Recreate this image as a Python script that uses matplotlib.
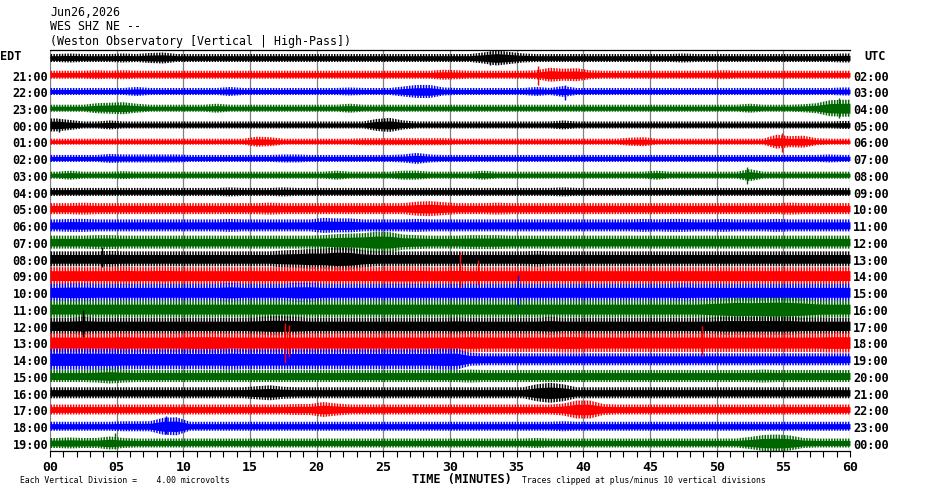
import matplotlib
matplotlib.use("Agg")
import matplotlib.pyplot as plt
from matplotlib.ticker import MultipleLocator, FixedLocator
import numpy as np

# ---------------- data ----------------
title_lines = ["Jun26,2026", "WES SHZ NE --",
               "(Weston Observatory [Vertical | High-Pass])"]
edt_labels = ["EDT", "21:00", "22:00", "23:00", "00:00", "01:00", "02:00", "03:00",
              "04:00", "05:00", "06:00", "07:00", "08:00", "09:00", "10:00", "11:00",
              "12:00", "13:00", "14:00", "15:00", "16:00", "17:00", "18:00", "19:00"]
utc_labels = ["UTC", "02:00", "03:00", "04:00", "05:00", "06:00", "07:00", "08:00",
              "09:00", "10:00", "11:00", "12:00", "13:00", "14:00", "15:00", "16:00",
              "17:00", "18:00", "19:00", "20:00", "21:00", "22:00", "23:00", "00:00"]
trace_colors = ["#000000", "#ff0000", "#0000ff", "#006600"]
major_minutes = list(range(0, 61, 5))
tick_labels = ["00", "05", "10", "15", "20", "25", "30", "35", "40", "45", "50", "55", "60"]

# per-minute trace envelope (peak-to-peak, base-36 digits), one string per hour row
envelopes = [
    "89888 98ab8 88888 88888 88888 88888 88bfc 98888 88888 88988 88888 88889",
    "88898 98888 88888 88888 88888 8888a 98888 89ecd 98888 88888 98888 88888",
    "77777 79777 77797 77777 77877 7add8 77777 797b7 77777 77777 77777 77778",
    "777ab c9777 77977 77777 77977 77777 77777 77777 77777 77777 77977 78agh",
    "da779 77777 77777 77777 7777c e9777 77777 77797 77777 77777 77777 77778",
    "66666 66666 66666 a9666 66677 77777 66666 66666 66689 66666 6666e bc766",
    "77779 88888 77777 77887 77777 78b87 77777 77777 77777 77777 77777 77787",
    "79777 87777 77777 77777 79777 79977 77977 77777 77777 97777 77c77 77777",
    "88888 88888 88898 88988 88888 88888 88888 88898 88888 88888 88888 88888",
    "bbcbb bbbbb bbbbb bcbbb bbbbb bbefd bbbcb bbbbb bbbbb bbbbb bbbbb cbbbb",
    "cddcc ccccc cccdc ccccc feecc ccdcc ccccc ccccc ccccd cddcc dcccd ccccc",
    "dddee ddddd ddddd ddddd eghil kfedd deeed ddddd ddddd ddddd ddddd ddddd",
    "ffffg fffff fffff ffhik knmhf fffff fffff fgfff fffff fffff fffff fffff",
    "hhhhh ihhih hhhhh hhhhh hhhhh iiihh ihhhh hhhhh hhhhh hhhhh hhhhh hhhhh",
    "hiihh hhhhh hhhjh hhhjj hhhhh hhhhh hhhhh hhhhh hhhhh hhihh hhhhh hhhhh",
    "hhhhh hhhhh hhhhh hhhhh hhhhh hhhhh hhhhh hhhhh hhhhh hhhhj lnmno nlihh",
    "ggigg ggggg ggggg hjjig ggggg ggggg hgggg ggigg ggggg ggggg iiiii igggg",
    "jjjjj kjjjj kkkjj jjjjj jjjjj jjjjj jkjjj jjjkk jjjjj jjjjj jjjjj jjjkk",
    "lllll kkkkk kkklk kkkkk kkkkk kkkkl ldccc ccccc ccccc ccccc ccccc ccccc",
    "cccdf dcccc ccccc ccccc ccccc ccccc cdccc ccccc ccccc ccccc cccdc ccccc",
    "bbbbb bbbbb bbbbb dfcbb bbbbb bbbbb bbbbb bhkhb bbbbb bbbbb bbbbb bbbbb",
    "aaaaa aaaaa aaaaa aaabb fcaaa aaaaa aaaaa aaaci ibaaa aaaaa aaaaa aaaaa",
    "99999 aaahi 99999 99999 99999 99999 99999 999a9 99999 99999 99999 99999",
    "abaad a9999 99999 99999 99999 99999 99999 9a999 99999 99999 99cgh fa999",
]

# isolated spikes: (row, minute, extent above, extent below)
spike_rows = [13, 13, 17, 17, 12, 16, 14, 17, 23, 22, 2, 1, 3, 5, 7, 4, 0]
spike_minutes = [30.75, 32.1, 17.6, 17.95, 3.9, 2.5, 35.1, 48.9, 4.85, 8.7,
                 38.6, 36.6, 59.2, 54.9, 52.25, 0.65, 33.0]
spike_up = [24, 16, 20, 18, 12, 16, 17, 17, 10, 10, 6, 9, 10, 9, 8, 6, 7]
spike_down = [11, 9, 20, 14, 8, 11, 13, 12, 6, 8, 9, 10, 10, 10, 9, 7, 7]

# ---------------- figure ----------------
plt.rcParams["hatch.linewidth"] = 1.1
W, H = 930, 494
fig = plt.figure(figsize=(W / 100, H / 100), dpi=100)
ax_left, ax_right, ax_top, ax_bot = 50, 850, 50, 451
ax = fig.add_axes([ax_left / W, 1 - ax_bot / H, (ax_right - ax_left) / W, (ax_bot - ax_top) / H])

n_rows = len(envelopes)
row_px = (443 - 58) / (n_rows - 1)          # pixel spacing of rows
pad_top = (58 - ax_top) / row_px
pad_bot = (ax_bot - 443) / row_px
ax.set_xlim(0, 60)
ax.set_ylim(n_rows - 1 + pad_bot, -pad_top)

xs = np.concatenate([[0.0], np.arange(60) + 0.5, [60.0]])
for i, env in enumerate(envelopes):
    vals = [int(c, 36) for c in env.replace(" ", "")]
    assert len(vals) == 60, (i, len(vals))
    vals = np.array([vals[0]] + vals + [vals[-1]], dtype=float)
    half = vals / 2.0 / row_px
    col = trace_colors[i % 4]
    ax.fill_between(xs, i - half, i + half, facecolor="none", edgecolor=col,
                    hatch="||||||", lw=0, zorder=2)
    ax.fill_between(xs, i - 0.58 * half, i + 0.58 * half, color=col, lw=0, zorder=3)

for r, m, u, d in zip(spike_rows, spike_minutes, spike_up, spike_down):
    ax.vlines(m, r - u / row_px, r + d / row_px, color=trace_colors[r % 4], lw=1.0, zorder=3)

for m in major_minutes:
    ax.axvline(m, color="#808080", lw=0.9, zorder=1)

for s in ["left", "right"]:
    ax.spines[s].set_visible(False)
ax.spines["top"].set_linewidth(0.9)
ax.spines["bottom"].set_linewidth(0.9)
ax.set_yticks([])
ax.xaxis.set_major_locator(FixedLocator(major_minutes))
ax.xaxis.set_minor_locator(MultipleLocator(1))
ax.set_xticklabels(tick_labels)
ax.tick_params(axis="x", which="both", direction="out", length=4.3, width=0.8, pad=3,
               labelsize=9.5, top=False)
for lab in ax.get_xticklabels():
    lab.set_fontfamily("DejaVu Sans Mono")
    lab.set_fontweight("bold")

mono = "DejaVu Sans Mono"

def ftext(x, y, s, **kw):
    fig.text(x / W, 1 - y / H, s, family=mono, **kw)

for k, line in enumerate(title_lines):
    ftext(50, 12 + 14.5 * k, line, fontsize=8.4, ha="left", va="center")

for i in range(n_rows):
    y = 58 + row_px * i
    if i == 0:
        ftext(0, 56, edt_labels[0], fontsize=8.6, fontweight="bold", ha="left", va="center")
        ftext(864, 56, utc_labels[0], fontsize=8.6, fontweight="bold", ha="left", va="center")
    else:
        ftext(48, y + 2.3, edt_labels[i], fontsize=8.6, fontweight="bold", ha="right", va="center")
        ftext(853, y + 2.3, utc_labels[i], fontsize=8.6, fontweight="bold", ha="left", va="center")

ftext(462, 479, "TIME (MINUTES)", fontsize=8.6, fontweight="bold", ha="center", va="center")
ftext(20, 480, "Each Vertical Division =    4.00 microvolts", fontsize=5.9, ha="left", va="center")
ftext(522, 480, "Traces clipped at plus/minus 10 vertical divisions", fontsize=5.9,
      ha="left", va="center")

fig.savefig("out.png", dpi=100)
